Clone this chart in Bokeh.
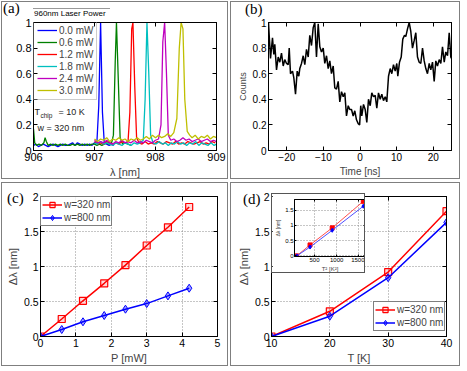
from bokeh.plotting import figure
from bokeh.models import Legend, LegendItem, Label, LinearAxis, FixedTicker, CustomJSTickFormatter, Range1d, Div
from bokeh.layouts import row, column
from bokeh.embed import file_html
from bokeh.resources import INLINE

SANS = "Liberation Sans"
SERIF = "Liberation Serif"

# ---------------- data: panel (a) spectra (wavelength nm, normalized intensity) -------------
LEGEND_TITLE_A = "960nm Laser Power"
POWER_LABELS = ["0.0 mW", "0.6 mW", "1.2 mW", "1.8 mW", "2.4 mW", "3.0 mW"]
SPEC_COLORS = ["#0000ff", "#008000", "#ff0000", "#00bfbf", "#bf00bf", "#bfbf00"]

SPEC_00 = [(906.00,0.04),(906.04,0.05),(906.08,0.03),(906.12,0.04),(906.16,0.05),(906.20,0.04),(906.24,0.03),
           (906.28,0.04),(906.32,0.05),(906.36,0.04),(906.40,0.03),(906.44,0.04),(906.48,0.05),(906.52,0.04),
           (906.56,0.04),(906.60,0.05),(906.64,0.06),(906.68,0.04),(906.72,0.06),(906.76,0.05),(906.80,0.04),
           (906.84,0.05),(906.88,0.04),(906.92,0.05),(906.96,0.04),(907.00,0.06),(907.04,0.07),(907.07,0.35),
           (907.10,1.00),(907.13,0.30),(907.16,0.06),(907.20,0.05),(907.24,0.04),(907.28,0.05),(907.32,0.04)]
SPEC_06 = [(906.00,0.17),(906.02,0.06),(906.05,0.04),(906.09,0.05),(906.13,0.04),(906.17,0.06),(906.19,0.10),
           (906.21,0.07),(906.24,0.04),(906.28,0.05),(906.32,0.04),(906.36,0.05),(906.40,0.04),(906.44,0.05),
           (906.48,0.04),(906.52,0.05),(906.56,0.04),(906.60,0.04),(906.64,0.05),(906.68,0.04),(906.72,0.05),
           (906.76,0.04),(906.80,0.05),(906.84,0.04),(906.88,0.05),(906.92,0.04),(906.96,0.05),(907.00,0.05),
           (907.04,0.04),(907.08,0.05),(907.12,0.04),(907.16,0.05),(907.20,0.06),(907.24,0.05),(907.28,0.06),
           (907.31,0.12),(907.34,0.70),(907.36,1.00),(907.39,0.55),(907.42,0.10),(907.46,0.05),(907.50,0.06),
           (907.55,0.05),(907.60,0.04)]
SPEC_12 = [(907.00,0.07),(907.05,0.05),(907.10,0.06),(907.15,0.05),(907.20,0.07),(907.25,0.06),(907.30,0.05),
           (907.35,0.06),(907.40,0.05),(907.45,0.07),(907.50,0.06),(907.55,0.07),(907.58,0.30),(907.61,0.95),
           (907.63,1.00),(907.66,0.50),(907.69,0.10),(907.73,0.06),(907.78,0.05),(907.83,0.07),(907.88,0.05),
           (907.93,0.06),(907.98,0.05),(908.03,0.07),(908.08,0.06),(908.13,0.05),(908.18,0.07),(908.23,0.06),
           (908.28,0.05),(908.33,0.07),(908.38,0.05),(908.43,0.06),(908.48,0.05),(908.53,0.07),(908.58,0.06),
           (908.63,0.05),(908.68,0.06),(908.73,0.07),(908.78,0.05),(908.83,0.06),(908.88,0.05),(908.93,0.07),
           (908.98,0.06)]
SPEC_18 = [(907.00,0.06),(907.05,0.05),(907.10,0.07),(907.15,0.05),(907.20,0.06),(907.25,0.05),(907.30,0.04),
           (907.35,0.06),(907.40,0.05),(907.45,0.04),(907.50,0.06),(907.55,0.05),(907.60,0.04),(907.65,0.06),
           (907.70,0.05),(907.75,0.06),(907.80,0.08),(907.83,0.40),(907.86,1.00),(907.89,0.60),(907.92,0.12),
           (907.96,0.06),(908.01,0.05),(908.06,0.07),(908.11,0.05),(908.16,0.06),(908.21,0.04),(908.26,0.06),
           (908.31,0.05),(908.36,0.07),(908.41,0.05),(908.46,0.06),(908.51,0.04),(908.56,0.06),(908.61,0.05),
           (908.66,0.07),(908.71,0.04),(908.76,0.06),(908.81,0.05),(908.86,0.04),(908.91,0.06),(908.96,0.04),
           (909.00,0.05)]
SPEC_24 = [(907.00,0.08),(907.05,0.06),(907.10,0.07),(907.15,0.06),(907.20,0.08),(907.25,0.06),(907.30,0.05),
           (907.35,0.07),(907.40,0.06),(907.45,0.08),(907.50,0.06),(907.55,0.07),(907.60,0.06),(907.65,0.08),
           (907.70,0.06),(907.75,0.07),(907.80,0.06),(907.85,0.08),(907.90,0.07),(907.95,0.06),(908.00,0.08),
           (908.05,0.09),(908.09,0.20),(908.12,0.85),(908.15,1.00),(908.18,0.60),(908.21,0.12),(908.25,0.08),
           (908.30,0.09),(908.35,0.07),(908.40,0.08),(908.45,0.10),(908.50,0.08),(908.55,0.09),(908.60,0.07),
           (908.65,0.08),(908.70,0.09),(908.75,0.07),(908.80,0.08),(908.85,0.09),(908.90,0.07),(908.95,0.08),
           (909.00,0.07)]
SPEC_30 = [(907.00,0.09),(907.05,0.07),(907.10,0.09),(907.15,0.08),(907.20,0.10),(907.25,0.07),(907.30,0.09),
           (907.35,0.08),(907.40,0.10),(907.45,0.08),(907.50,0.09),(907.55,0.07),(907.60,0.09),(907.65,0.08),
           (907.70,0.10),(907.75,0.08),(907.80,0.09),(907.85,0.11),(907.90,0.09),(907.95,0.12),(908.00,0.10),
           (908.05,0.12),(908.10,0.10),(908.15,0.11),(908.20,0.13),(908.25,0.11),(908.30,0.14),(908.35,0.25),
           (908.39,0.80),(908.42,1.00),(908.45,0.95),(908.48,0.40),(908.52,0.15),(908.56,0.12),(908.60,0.10),
           (908.65,0.12),(908.70,0.09),(908.75,0.11),(908.80,0.10),(908.85,0.12),(908.90,0.09),(908.95,0.11),
           (909.00,0.10)]
SPECTRA = [SPEC_00, SPEC_06, SPEC_12, SPEC_18, SPEC_24, SPEC_30]

# ---------------- data: panel (b) time trace (ns, counts) ----------------
TRACE = [(-25.00,1.00),(-24.81,0.90),(-24.45,0.72),(-23.91,0.88),(-23.55,0.75),(-23.28,0.83),(-22.81,0.63),
         (-22.35,0.73),(-21.91,0.69),(-21.45,0.76),(-20.98,0.66),(-20.55,0.71),(-20.08,0.68),(-19.62,0.67),
         (-19.34,0.80),(-18.99,0.60),(-18.44,0.62),(-18.09,0.57),(-17.62,0.44),(-17.16,0.62),(-16.72,0.58),
         (-16.45,0.64),(-15.98,0.68),(-15.52,0.74),(-15.08,0.67),(-14.62,0.79),(-14.15,0.73),(-13.72,0.90),
         (-13.25,0.82),(-12.79,0.96),(-12.35,1.00),(-11.89,0.73),(-11.42,0.99),(-10.98,0.81),(-10.52,0.77),
         (-10.05,0.80),(-9.62,0.68),(-9.15,0.74),(-8.69,0.64),(-8.25,0.70),(-7.79,0.60),(-7.32,0.66),
         (-6.89,0.49),(-6.42,0.48),(-5.96,0.54),(-5.52,0.38),(-5.05,0.46),(-4.59,0.42),(-4.15,0.45),
         (-3.69,0.27),(-3.22,0.35),(-2.79,0.32),(-2.32,0.32),(-1.86,0.27),(-1.42,0.31),(-0.96,0.24),
         (-0.49,0.21),(-0.10,0.20),(0.20,0.35),(0.49,0.27),(0.96,0.36),(1.42,0.32),(1.86,0.22),(2.32,0.40),
         (2.79,0.35),(3.22,0.45),(3.69,0.42),(4.15,0.43),(4.59,0.33),(5.05,0.45),(5.52,0.40),(5.96,0.44),
         (6.42,0.39),(6.89,0.42),(7.32,0.38),(7.79,0.58),(8.25,0.64),(8.69,0.60),(9.15,0.67),(9.62,0.62),
         (10.05,0.68),(10.33,0.58),(10.79,0.69),(11.26,0.73),(11.69,0.87),(12.16,0.90),(12.51,0.89),
         (12.98,0.95),(13.44,1.00),(13.88,0.93),(14.34,0.80),(14.81,0.86),(15.25,0.92),(15.71,0.73),
         (16.17,0.69),(16.61,0.68),(17.08,0.80),(17.54,0.70),(17.98,0.64),(18.44,0.60),(18.91,0.68),
         (19.34,0.63),(19.81,0.69),(20.27,0.54),(20.71,0.70),(21.17,0.66),(21.64,0.71),(22.08,0.68),
         (22.54,0.81),(23.01,0.69),(23.44,0.77),(23.91,0.74),(24.37,0.92),(24.81,0.73),(25.00,0.72)]

# ---------------- data: panel (c) shift vs power ----------------
POWER_MW = [0, 0.6, 1.2, 1.8, 2.4, 3.0, 3.6, 4.2]
SHIFT_P_320 = [0, 0.25, 0.51, 0.76, 1.02, 1.30, 1.56, 1.85]
SHIFT_P_800 = [0, 0.10, 0.21, 0.30, 0.39, 0.47, 0.58, 0.69]

# ---------------- data: panel (d) shift vs temperature ----------------
TEMP_K = [10, 20, 30, 40]
TEMP_SQ = [100, 400, 900, 1600]
SHIFT_T_320 = [0, 0.36, 0.92, 1.79]
SHIFT_T_800 = [0, 0.29, 0.84, 1.63]

SERIES_LABELS = ["w=320 nm", "w=800 nm"]
PANEL_TAGS = ["(a)", "(b)", "(c)", "(d)"]

# ---------------- helpers ----------------
def fmt():
    return CustomJSTickFormatter(code="return String(tick).replace('-', '\u2212');")


def make_fig(w, h, xr, yr, lrtb, xticks, yticks, tick_size, grid=False, border="1px solid #7f7f7f",
             extra_styles=None, tick_len=4):
    l, r, t, b = lrtb
    styles = {"border": border}
    if extra_styles:
        styles.update(extra_styles)
    p = figure(width=w, height=h, x_range=xr, y_range=yr,
               min_border_left=l, min_border_right=r, min_border_top=t, min_border_bottom=b,
               toolbar_location=None, output_backend="svg", styles=styles)
    p.outline_line_color = "black"
    p.outline_line_width = 1
    p.background_fill_color = "white"
    p.border_fill_color = "white"
    xa = p.below[0]
    ya = p.left[0]
    for ax, ticks in ((xa, xticks), (ya, yticks)):
        ax.ticker = FixedTicker(ticks=ticks)
        ax.formatter = fmt()
        ax.major_tick_in = tick_len
        ax.major_tick_out = 0
        ax.minor_tick_in = 0
        ax.minor_tick_out = 0
        ax.major_label_standoff = 2
        ax.axis_label_standoff = 2
        ax.major_label_text_font = SANS
        ax.major_label_text_font_size = tick_size
        ax.major_label_text_color = "black"
        ax.axis_label_text_font = SANS
        ax.axis_label_text_font_style = "normal"
        ax.axis_line_color = "black"
        ax.major_tick_line_color = "black"
    for side, ticks in (("above", xticks), ("right", yticks)):
        ax2 = LinearAxis(ticker=FixedTicker(ticks=ticks), major_label_text_font_size="1px",
                         major_label_text_color=None,
                         major_tick_in=tick_len, major_tick_out=0, minor_tick_in=0, minor_tick_out=0,
                         major_label_standoff=0, axis_line_color="black")
        p.add_layout(ax2, side)
    if grid:
        p.grid.grid_line_color = "#8c8c8c"
        p.grid.grid_line_dash = "1 2"
        p.grid.grid_line_width = 1
    else:
        p.grid.grid_line_color = None
    return p, xa, ya


def small_label(p, text, x, y, size):
    p.add_layout(Label(x=x, y=y, x_units="screen", y_units="screen", text=text,
                       text_font=SANS, text_font_size=size, text_baseline="middle",
                       text_align="left", text_color="#222222"))


def tag_div(text, top, left):
    html = ('<div style="font-family: \'Liberation Serif\'; font-size: 15px; line-height: 16px; '
            'color: black; white-space: nowrap;">%s</div>' % text)
    return Div(text=html, width=26, height=16, margin=(top, 0, 0, left))


# ---------------- panel (a) ----------------
pa, pa_x, pa_y = make_fig(227, 178, Range1d(906, 909), Range1d(0, 1), (31, 13, 20, 30),
                          [906, 907, 908, 909], [0, 0.2, 0.4, 0.6, 0.8, 1], "11px")
pa_x.axis_label = "\u03bb [nm]"
pa_x.axis_label_text_font_size = "11px"
items_a = []
for spec, color, lab in zip(SPECTRA, SPEC_COLORS, POWER_LABELS):
    xs = [pt[0] for pt in spec]
    ys = [pt[1] for pt in spec]
    r = pa.line(xs, ys, line_color=color, line_width=1.3)
    items_a.append(LegendItem(label=lab, renderers=[r]))
leg_a = Legend(items=items_a, location=(0, 50),
               label_text_font=SANS, label_text_font_size="10px",
               glyph_width=20, glyph_height=12, label_height=12, label_standoff=2,
               spacing=0, padding=3, margin=0, border_line_color="#999999",
               background_fill_alpha=0)
pa.add_layout(leg_a)
small_label(pa, "T", 1, 39, "9px")
small_label(pa, "chip", 7, 35, "6.5px")
small_label(pa, "= 10 K", 25, 39, "9px")
small_label(pa, "w = 320 nm", 4, 23, "9px")

# ---------------- panel (b) ----------------
pb, pb_x, pb_y = make_fig(230, 178, Range1d(-25, 25), Range1d(0, 1), (37, 10, 11, 27),
                          [-20, -10, 0, 10, 20], [0, 0.2, 0.4, 0.6, 0.8, 1], "10px")
pb_x.axis_label = "Time [ns]"
pb_x.axis_label_text_font_size = "10px"
pb_y.axis_label = "Counts"
pb_y.axis_label_text_font_size = "9px"
pb.line([pt[0] for pt in TRACE], [pt[1] for pt in TRACE], line_color="black", line_width=1.5)

# ---------------- panel (c) ----------------
pc, pc_x, pc_y = make_fig(227, 184, Range1d(0, 5), Range1d(0, 2), (38, 12, 13, 31),
                          [0, 1, 2, 3, 4, 5], [0, 0.5, 1, 1.5, 2], "10.5px", grid=True)
pc_x.axis_label = "P [mW]"
pc_x.axis_label_text_font_size = "11px"
pc_y.axis_label = "\u0394\u03bb [nm]"
pc_y.axis_label_text_font_size = "11px"
lc1 = pc.line(POWER_MW, SHIFT_P_320, line_color="#ff0000", line_width=1.5)
sc1 = pc.scatter(POWER_MW, SHIFT_P_320, marker="square", size=7, line_color="#ff0000",
                 fill_color="#ff0000", fill_alpha=0.15, line_width=1.2)
lc2 = pc.line(POWER_MW, SHIFT_P_800, line_color="#0000ff", line_width=1.5)
sc2 = pc.scatter(POWER_MW, SHIFT_P_800, marker="diamond", size=8, line_color="#0000ff",
                 fill_color="#0000ff", fill_alpha=0.35, line_width=1.0)
leg_c = Legend(items=[LegendItem(label=SERIES_LABELS[0], renderers=[lc1, sc1]),
                      LegendItem(label=SERIES_LABELS[1], renderers=[lc2, sc2])],
               location=(0, 110), label_text_font=SANS, label_text_font_size="10px",
               glyph_width=20, glyph_height=13, label_height=13, label_standoff=2,
               spacing=0, padding=1, margin=0, border_line_color="black", background_fill_color="white")
pc.add_layout(leg_c)

# ---------------- panel (d) ----------------
pd, pd_x, pd_y = make_fig(230, 184, Range1d(10, 40), Range1d(0, 2), (40, 15, 13, 31),
                          [10, 20, 30, 40], [0, 0.5, 1, 1.5, 2], "10.5px", grid=True)
pd_x.axis_label = "T [K]"
pd_x.axis_label_text_font_size = "11px"
pd_y.axis_label = "\u0394\u03bb [nm]"
pd_y.axis_label_text_font_size = "11px"
ld1 = pd.line(TEMP_K, SHIFT_T_320, line_color="#ff0000", line_width=1.5)
sd1 = pd.scatter(TEMP_K, SHIFT_T_320, marker="square", size=7, line_color="#ff0000",
                 fill_color="#ff0000", fill_alpha=0.15, line_width=1.2)
ld2 = pd.line(TEMP_K, SHIFT_T_800, line_color="#0000ff", line_width=1.5)
sd2 = pd.scatter(TEMP_K, SHIFT_T_800, marker="diamond", size=8, line_color="#0000ff",
                 fill_color="#0000ff", fill_alpha=0.35, line_width=1.0)
leg_d = Legend(items=[LegendItem(label=SERIES_LABELS[0], renderers=[ld1, sd1]),
                      LegendItem(label=SERIES_LABELS[1], renderers=[ld2, sd2])],
               location=(102, 5), label_text_font=SANS, label_text_font_size="10px",
               glyph_width=20, glyph_height=13, label_height=13, label_standoff=2,
               spacing=0, padding=1, margin=0, border_line_color="black", background_fill_color="white")
pd.add_layout(leg_d)

# ---------------- inset of (d): shift vs T^2 ----------------
pi, pi_x, pi_y = make_fig(94, 80, Range1d(50, 1650), Range1d(-0.02, 1.85), (19, 1, 5, 17),
                          [500, 1000, 1500], [0, 0.5, 1, 1.5], "6px", grid=True,
                          border="1px solid #555555",
                          extra_styles={"margin-top": "-176px", "margin-left": "270px"}, tick_len=2)
pi_x.axis_label = "T\u00b2 [K\u00b2]"
pi_x.axis_label_text_font_size = "6px"
pi_x.major_label_standoff = 1
pi_x.axis_label_standoff = 1
pi_y.axis_label = "\u0394\u03bb [nm]"
pi_y.axis_label_text_font_size = "5px"
pi_y.major_label_standoff = 1
pi_y.axis_label_standoff = 1
pi.line(TEMP_SQ, SHIFT_T_320, line_color="#ff4d4d", line_width=1)
pi.scatter(TEMP_SQ, SHIFT_T_320, marker="square", size=4, line_color="#ff0000", fill_color="#ff0000")
pi.line(TEMP_SQ, SHIFT_T_800, line_color="#4d4dff", line_width=1)
pi.scatter(TEMP_SQ, SHIFT_T_800, marker="diamond", size=4, line_color="#0000ff", fill_color="#0000ff")

# ---------------- overlaid text: panel tags and legend title of (a) ----------------
div_a = tag_div(PANEL_TAGS[0], -276, 2)
div_b = tag_div(PANEL_TAGS[1], -18, 244)
div_c = tag_div(PANEL_TAGS[2], 170, 6)
div_d = tag_div(PANEL_TAGS[3], -18, 242)
title_html = ('<div style="border-top: 1px solid #999999; width: 77px; font-family: \'Liberation Sans\'; '
              'font-size: 8px; line-height: 10px; color: black; white-space: nowrap; padding-left: 1px;">'
              '%s</div>' % LEGEND_TITLE_A)
div_title = Div(text=title_html, width=78, height=11, margin=(-206, 0, 0, 32))

layout = column(row(pa, pb, spacing=2), row(pc, pd, spacing=2), pi,
                div_a, div_b, div_c, div_d, div_title, spacing=3,
                styles={"margin-left": "1px", "margin-top": "1px"})

open("out.html", "w").write(file_html(layout, INLINE))
